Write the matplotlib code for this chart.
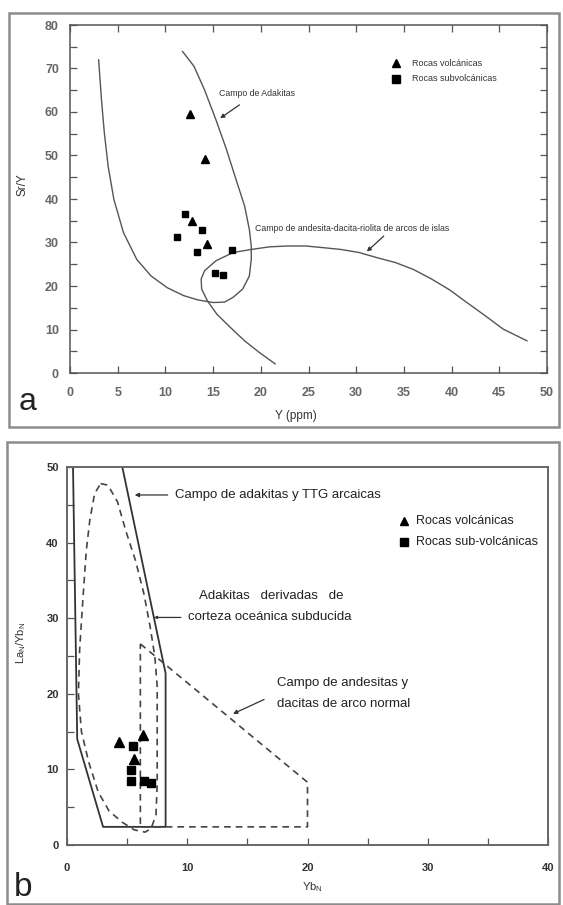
#!/usr/bin/env python3
"""Sr/Y vs Y and (La/Yb)N vs YbN adakite discrimination diagrams (panels a, b)."""
import matplotlib
matplotlib.use("Agg")
import matplotlib.pyplot as plt
from matplotlib.patches import Rectangle
from matplotlib.ticker import MultipleLocator

plt.rcParams["font.family"] = ["Liberation Sans", "DejaVu Sans"]
plt.rcParams["mathtext.fontset"] = "custom"
plt.rcParams["mathtext.rm"] = "Liberation Sans"
plt.rcParams["mathtext.it"] = "Liberation Sans"

W, H = 563, 905

# ---- panel a: Sr/Y vs Y (ppm) ----
A_VOLC_X = [12.6, 14.2, 12.8, 14.4]
A_VOLC_Y = [59.5, 49.1, 34.9, 29.7]
A_SUB_X = [12.1, 11.2, 13.8, 13.3, 17.0, 15.2, 16.0]
A_SUB_Y = [36.5, 31.3, 32.9, 27.8, 28.3, 23.1, 22.5]

# adakite field (U-shaped boundary)
ADAK_X = [3.0, 3.3, 3.6, 4.0, 4.6, 5.6, 7.0, 8.5, 10.2, 11.9, 13.4, 15.0, 16.2,
          17.1, 18.1, 18.8, 19.0, 19.0, 18.8, 18.3, 17.3, 16.4, 15.3, 14.1, 13.0, 11.8]
ADAK_Y = [72.0, 62.8, 55.2, 47.5, 39.9, 32.3, 26.1, 22.3, 19.6, 17.8, 16.8, 16.2, 16.3,
          17.4, 19.3, 22.3, 26.1, 29.2, 33.0, 38.4, 45.2, 51.4, 58.2, 65.1, 70.5, 73.9]

# island-arc andesite-dacite-rhyolite field
ARC_X = [21.5, 19.8, 18.3, 16.8, 15.4, 14.4, 13.8, 13.75, 14.1, 15.3, 17.1, 19.0, 20.9,
         22.8, 24.7, 26.6, 28.4, 30.3, 32.2, 34.1, 36.0, 37.9, 39.8, 41.6, 43.5, 45.4, 47.9]
ARC_Y = [2.1, 4.8, 7.4, 10.5, 13.5, 16.6, 19.3, 21.6, 23.5, 25.8, 27.7, 28.4, 29.0,
         29.2, 29.2, 28.8, 28.4, 27.7, 26.5, 25.4, 23.8, 21.6, 19.1, 16.2, 13.2, 10.1, 7.4]

# ---- panel b: (La/Yb)N vs YbN ----
B_VOLC_X = [4.3, 6.3, 5.6]
B_VOLC_Y = [13.6, 14.6, 11.4]
B_SUB_X = [5.45, 5.3, 5.3, 6.4, 7.0]
B_SUB_Y = [13.1, 9.9, 8.4, 8.4, 8.2]

# adakite + archaean TTG field (solid)
TTG_X = [0.5, 0.85, 3.0, 8.2, 8.2, 4.6]
TTG_Y = [50.0, 14.0, 2.4, 2.4, 22.7, 50.0]

# slab-derived adakites (dashed closed curve)
SLAB_X = [2.8, 3.4, 4.2, 4.9, 5.7, 6.4, 6.9, 7.3, 7.5, 7.5, 7.5, 7.4, 7.0, 6.5,
          5.6, 4.6, 3.5, 2.6, 1.8, 1.2, 0.95, 1.05, 1.3, 1.6, 1.9, 2.3, 2.8]
SLAB_Y = [47.8, 47.6, 45.4, 41.5, 37.6, 33.2, 29.0, 25.0, 21.0, 15.0, 8.0, 4.0, 2.2, 1.7,
          2.0, 3.0, 4.5, 7.0, 11.0, 15.0, 20.0, 25.8, 32.0, 38.9, 43.0, 46.5, 47.8]

# normal arc andesite-dacite field (dashed polygon)
NARC_X = [6.1, 20.0, 20.0, 6.1, 6.1]
NARC_Y = [26.6, 8.3, 2.4, 2.4, 26.6]


def fx(x):
    return x / W


def fy(y):
    return 1 - y / H


fig = plt.figure(figsize=(W / 100, H / 100), dpi=100)

# panel frames
for x0, y0, x1, y1 in [(9, 13, 559, 427), (7, 442, 559, 904)]:
    fig.patches.append(Rectangle((fx(x0), fy(y1)), fx(x1 - x0), (y1 - y0) / H,
                                 transform=fig.transFigure, fill=False,
                                 edgecolor="#8c8c8c", lw=1.8))

# ---------------- panel a ----------------
axa = fig.add_axes([fx(70), fy(373), fx(547 - 70), (373 - 25) / H])
axa.set_xlim(0, 50)
axa.set_ylim(0, 80)
axa.plot(ADAK_X, ADAK_Y, color="#555555", lw=1.0)
axa.plot(ARC_X, ARC_Y, color="#555555", lw=1.0)
axa.plot(A_VOLC_X, A_VOLC_Y, "^", color="black", ms=6, ls="none")
axa.plot(A_SUB_X, A_SUB_Y, "s", color="black", ms=4.5, ls="none")

axa.plot([34.2], [71.2], "^", color="black", ms=6)
axa.plot([34.2], [67.7], "s", color="black", ms=5.5)
axa.text(35.8, 71.2, "Rocas volcánicas", fontsize=6.5, va="center", color="#333333")
axa.text(35.8, 67.7, "Rocas subvolcánicas", fontsize=6.5, va="center", color="#333333")

axa.text(15.65, 64.3, "Campo de Adakitas", fontsize=6.3, va="center", color="#333333")
axa.annotate("", xy=(15.5, 58.2), xytext=(18.0, 62.0),
             arrowprops=dict(arrowstyle="-|>", color="#333333", lw=0.9,
                             mutation_scale=6))
axa.text(19.4, 33.3, "Campo de andesita-dacita-riolita de arcos de islas",
         fontsize=6.3, va="center", color="#333333")
axa.annotate("", xy=(30.9, 27.5), xytext=(33.1, 31.9),
             arrowprops=dict(arrowstyle="-|>", color="#333333", lw=0.9,
                             mutation_scale=6))

axa.xaxis.set_major_locator(MultipleLocator(5))
axa.yaxis.set_major_locator(MultipleLocator(10))
axa.yaxis.set_minor_locator(MultipleLocator(5))
axa.tick_params(which="both", direction="in", top=True, right=True,
                length=5, width=0.9, color="#555555")
axa.tick_params(axis="x", pad=10, labelsize=9, labelcolor="#666666")
axa.tick_params(axis="y", pad=8, labelsize=9, labelcolor="#666666")
for lbl in axa.get_xticklabels() + axa.get_yticklabels():
    lbl.set_fontweight("bold")
for s in axa.spines.values():
    s.set_color("#555555")
    s.set_linewidth(1.1)
fig.text(fx(23), fy(185), "Sr/Y", rotation=90, ha="center", va="center",
         fontsize=8.5, color="#333333")
fig.text(fx(296), fy(416), "Y (ppm)", ha="center", va="center",
         fontsize=8.5, color="#333333")
fig.text(fx(28), fy(402), "a", ha="center", va="center", fontsize=23, color="#222222")

# ---------------- panel b ----------------
axb = fig.add_axes([fx(67), fy(845), fx(548 - 67), (845 - 467) / H])
axb.set_xlim(0, 40)
axb.set_ylim(0, 50)
axb.plot(TTG_X, TTG_Y, color="#333333", lw=1.3)
axb.plot(SLAB_X, SLAB_Y, color="#444444", lw=1.2, ls=(0, (4, 3)))
axb.plot(NARC_X, NARC_Y, color="#444444", lw=1.2, ls=(0, (4, 3)))
axb.plot(B_VOLC_X, B_VOLC_Y, "^", color="black", ms=7, ls="none")
axb.plot(B_SUB_X, B_SUB_Y, "s", color="black", ms=6, ls="none")

axb.plot([28.0], [42.8], "^", color="black", ms=6)
axb.plot([28.0], [40.1], "s", color="black", ms=5.5)
axb.text(29.0, 42.8, "Rocas volcánicas", fontsize=9, va="center", color="#222222")
axb.text(29.0, 40.1, "Rocas sub-volcánicas", fontsize=9, va="center", color="#222222")

axb.text(9.0, 46.3, "Campo de adakitas y TTG arcaicas", fontsize=9.5,
         va="center", color="#222222")
axb.annotate("", xy=(5.4, 46.3), xytext=(8.6, 46.3),
             arrowprops=dict(arrowstyle="-|>", color="#333333", lw=0.9,
                             mutation_scale=6))
axb.text(17.0, 32.9, "Adakitas   derivadas   de", fontsize=9.5, ha="center",
         va="center", color="#222222")
axb.text(16.9, 30.1, "corteza oceánica subducida", fontsize=9.5, ha="center",
         va="center", color="#222222")
axb.annotate("", xy=(7.0, 30.1), xytext=(9.7, 30.1),
             arrowprops=dict(arrowstyle="-|>", color="#333333", lw=0.9,
                             mutation_scale=4))
axb.text(17.5, 21.4, "Campo de andesitas y", fontsize=9.5, va="center",
         color="#222222")
axb.text(17.5, 18.6, "dacitas de arco normal", fontsize=9.5, va="center",
         color="#222222")
axb.annotate("", xy=(13.6, 17.2), xytext=(16.6, 19.4),
             arrowprops=dict(arrowstyle="-|>", color="#333333", lw=0.9,
                             mutation_scale=6))

axb.xaxis.set_major_locator(MultipleLocator(10))
axb.xaxis.set_minor_locator(MultipleLocator(5))
axb.yaxis.set_major_locator(MultipleLocator(10))
axb.yaxis.set_minor_locator(MultipleLocator(5))
axb.tick_params(which="both", direction="in", top=False, right=False,
                length=5, width=0.9, color="#555555")
axb.tick_params(axis="x", pad=13, labelsize=8, labelcolor="#333333")
axb.tick_params(axis="y", pad=6, labelsize=8, labelcolor="#333333")
for lbl in axb.get_xticklabels() + axb.get_yticklabels():
    lbl.set_fontweight("bold")
for s in axb.spines.values():
    s.set_color("#666666")
    s.set_linewidth(1.4)
fig.text(fx(21), fy(643), r"La$_N$/Yb$_N$", rotation=90, ha="center", va="center",
         fontsize=8, color="#333333")
fig.text(fx(312), fy(887), r"Yb$_N$", ha="center", va="center",
         fontsize=8, color="#333333")
fig.text(fx(23), fy(887), "b", ha="center", va="center", fontsize=24, color="#222222")

fig.savefig("out.png", dpi=100)
